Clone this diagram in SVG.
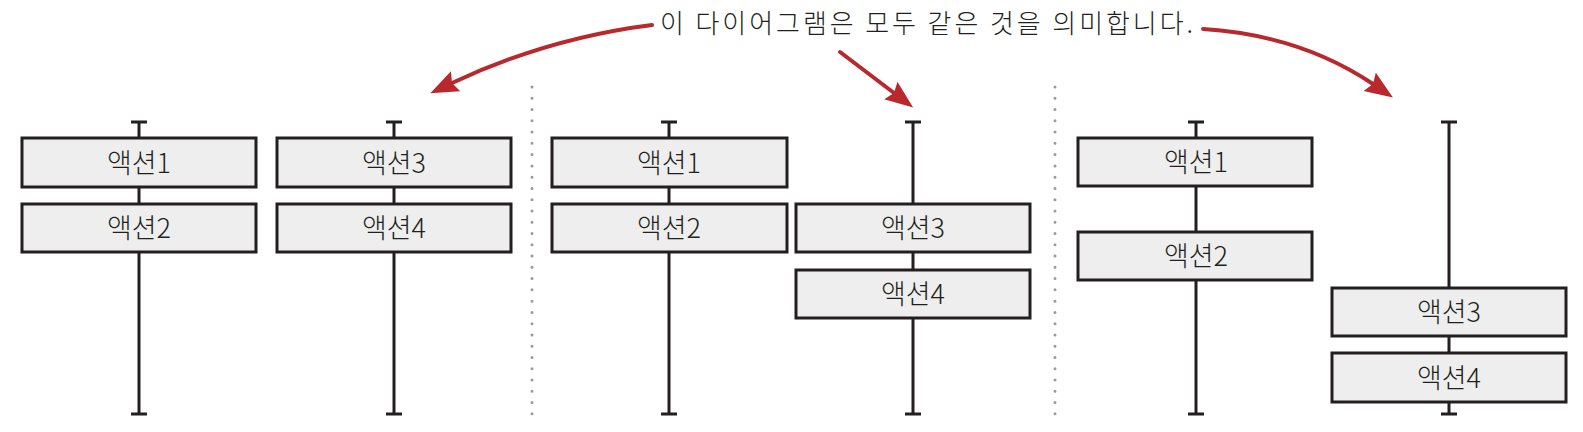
<svg xmlns="http://www.w3.org/2000/svg" width="1583" height="432" viewBox="0 0 1583 432">
<defs>
<style>
.life{stroke:#231f20;stroke-width:3;fill:none}
.box{fill:#eeeeee;stroke:#231f20;stroke-width:3}
.lbl{font-family:"Noto Sans CJK KR","Noto Sans",sans-serif;font-size:27px;font-weight:300;fill:#231f20;text-anchor:middle}
.title{font-family:"Noto Sans CJK KR","Noto Sans",sans-serif;font-size:26px;font-weight:300;fill:#231f20}
.sep{stroke:#9a9a9a;stroke-width:3;stroke-linecap:round;stroke-dasharray:0 11.27;fill:none}
.arr{stroke:#b8282c;stroke-width:4;fill:none;stroke-linecap:round}
</style>
<marker id="ah" markerUnits="userSpaceOnUse" markerWidth="30" markerHeight="24" refX="4" refY="11" orient="auto">
<path d="M0,0 L28,11 L0,22 L4,11 Z" fill="#b8282c"/>
</marker>
</defs>
<rect width="1583" height="432" fill="#ffffff"/>

<g id="separators">
<line class="sep" x1="532" y1="87" x2="532" y2="425"/>
<line class="sep" x1="1055" y1="87" x2="1055" y2="425"/>
</g>

<g id="title">
<text class="title" x="660" y="33" textLength="533" lengthAdjust="spacing">이 다이어그램은 모두 같은 것을 의미합니다.</text>
</g>

<g id="connectors">
<path class="arr" d="M652,25 Q548,38 452,83" marker-end="url(#ah)"/>
<path class="arr" d="M840,52 L894,93" marker-end="url(#ah)"/>
<path class="arr" d="M1203,29 Q1300,35 1373,84" marker-end="url(#ah)"/>
</g>

<g id="lifelines">
<path class="life" d="M139,122 V414 M131,122 H147 M131,414 H147"/>
<path class="life" d="M394,122 V414 M386,122 H402 M386,414 H402"/>
<path class="life" d="M669,122 V414 M661,122 H677 M661,414 H677"/>
<path class="life" d="M913,122 V414 M905,122 H921 M905,414 H921"/>
<path class="life" d="M1196,122 V414 M1188,122 H1204 M1188,414 H1204"/>
<path class="life" d="M1449,122 V414 M1441,122 H1457 M1441,414 H1457"/>
</g>

<g id="p1-action1"><rect class="box" x="22" y="138" width="234" height="49"/><text class="lbl" x="139" y="173">액션1</text></g>
<g id="p1-action2"><rect class="box" x="22" y="204" width="234" height="48"/><text class="lbl" x="139" y="238">액션2</text></g>
<g id="p1-action3"><rect class="box" x="277" y="138" width="234" height="49"/><text class="lbl" x="394" y="173">액션3</text></g>
<g id="p1-action4"><rect class="box" x="277" y="204" width="234" height="48"/><text class="lbl" x="394" y="238">액션4</text></g>

<g id="p2-action1"><rect class="box" x="552" y="138" width="235" height="49"/><text class="lbl" x="669" y="173">액션1</text></g>
<g id="p2-action2"><rect class="box" x="552" y="204" width="235" height="48"/><text class="lbl" x="669" y="238">액션2</text></g>
<g id="p2-action3"><rect class="box" x="796" y="204" width="234" height="48"/><text class="lbl" x="913" y="238">액션3</text></g>
<g id="p2-action4"><rect class="box" x="796" y="270" width="234" height="48"/><text class="lbl" x="913" y="304">액션4</text></g>

<g id="p3-action1"><rect class="box" x="1078" y="138" width="234" height="48"/><text class="lbl" x="1196" y="172">액션1</text></g>
<g id="p3-action2"><rect class="box" x="1078" y="232" width="234" height="48"/><text class="lbl" x="1196" y="266">액션2</text></g>
<g id="p3-action3"><rect class="box" x="1332" y="288" width="234" height="48"/><text class="lbl" x="1449" y="322">액션3</text></g>
<g id="p3-action4"><rect class="box" x="1332" y="353" width="234" height="49"/><text class="lbl" x="1449" y="388">액션4</text></g>
</svg>
